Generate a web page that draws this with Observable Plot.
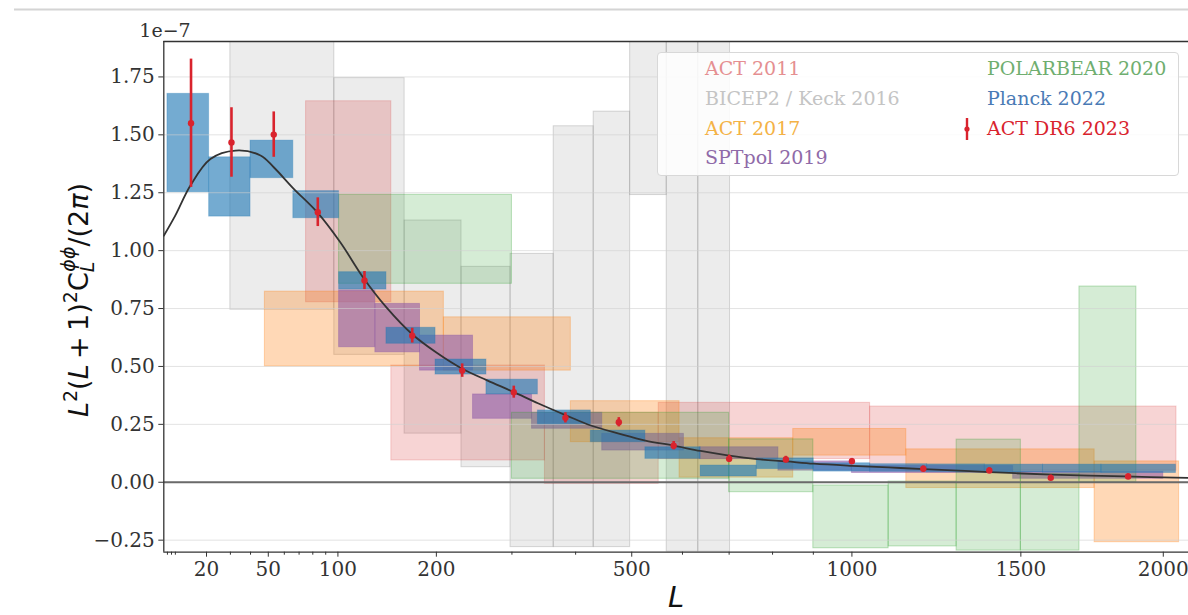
<!DOCTYPE html>
<html><head><meta charset="utf-8">
<script src="https://cdn.jsdelivr.net/npm/d3@7"></script>
<script src="https://cdn.jsdelivr.net/npm/@observablehq/plot@0.6"></script>
<style>
body{margin:0;background:#fff;}
#wrap{position:relative;width:1188px;height:615px;overflow:hidden;}
#legend{position:absolute;left:657px;top:52px;width:522px;height:124px;background:rgba(255,255,255,0.85);border:1px solid #d8d8d8;border-radius:4px;box-sizing:border-box;font-family:"DejaVu Serif",serif;font-size:19px;}
.li{position:absolute;white-space:nowrap;line-height:1;}
</style></head>
<body><div id="wrap"><div id="legend"></div></div>
<script>
// ---------------- data (values in units of 1e-7) ----------------
const xMin = 7.16, xMax = 2096;
const yMin = -0.302, yMax = 1.903;
const xMajor = [20, 50, 100, 200, 500, 1000, 1500, 2000];
const xMinor = [8, 9, 10, 30, 40, 60, 70, 80, 90, 300, 400, 600, 700, 800, 900];
const yTicks = [-0.25, 0, 0.25, 0.5, 0.75, 1.0, 1.25, 1.5, 1.75];

// Planck 2022
const planckLo = [8, 21, 40, 66, 101, 145, 199, 264, 339, 426, 526, 638, 763, 901, 1049, 1210, 1385, 1573, 1774];
const planckHi = [21, 40, 66, 101, 145, 199, 264, 339, 426, 526, 638, 763, 901, 1049, 1210, 1385, 1573, 1774, 2048];
const planckY1 = [1.252, 1.147, 1.313, 1.140, 0.832, 0.598, 0.465, 0.379, 0.249, 0.173, 0.101, 0.025, 0.057, 0.046, 0.045, 0.043, 0.042, 0.041, 0.040];
const planckY2 = [1.677, 1.403, 1.475, 1.257, 0.907, 0.667, 0.530, 0.443, 0.310, 0.223, 0.151, 0.072, 0.103, 0.082, 0.078, 0.077, 0.076, 0.076, 0.076];

// ACT 2011
const act11Lo = [75, 150, 350, 552, 1049];
const act11Hi = [150, 350, 552, 1049, 2050];
const act11Y1 = [0.777, 0.094, -0.007, 0.10, 0.05];
const act11Y2 = [1.645, 0.504, 0.30, 0.343, 0.327];

// BICEP2 / Keck 2016
const bkLo = [30, 97, 164, 231, 298, 364, 431, 497, 568, 633];
const bkHi = [97, 164, 231, 298, 364, 431, 497, 568, 633, 702];
const bkY1 = [0.745, 0.55, 0.21, 0.065, -0.28, -0.28, -0.28, 1.24, -0.30, -0.30];
const bkY2 = [2.1, 1.745, 1.13, 0.93, 0.986, 1.537, 1.60, 2.1, 2.1, 2.1];

// ACT 2017
const act17Lo = [48, 209, 392, 594, 850, 1150, 1750];
const act17Hi = [209, 392, 594, 850, 1150, 1750, 2060];
const act17Y1 = [0.50, 0.482, 0.173, 0.02, 0.115, -0.025, -0.259];
const act17Y2 = [0.823, 0.712, 0.35, 0.19, 0.23, 0.142, 0.09];

// SPTpol 2019
const sptLo = [101, 134, 181, 246, 330, 446, 636, 814, 1000, 1475];
const sptHi = [134, 181, 246, 330, 446, 603, 814, 1000, 1475, 2000];
const sptY1 = [0.583, 0.561, 0.482, 0.274, 0.231, 0.137, 0.10, 0.05, 0.04, 0.015];
const sptY2 = [0.828, 0.77, 0.633, 0.379, 0.30, 0.209, 0.151, 0.09, 0.07, 0.045];

// POLARBEAR 2020
const pbLo = [101, 300, 700, 900, 1100, 1298, 1500, 1697];
const pbHi = [300, 700, 900, 1100, 1298, 1500, 1697, 1900];
const pbY1 = [0.857, 0.015, -0.043, -0.285, -0.277, -0.295, -0.295, 0.0];
const pbY2 = [1.241, 0.30, 0.185, -0.014, 0.003, 0.184, 0.035, 0.845];

// ACT DR6 2023
const dr6L = [14.6, 30.5, 53.3, 83.8, 123.6, 172.3, 231.9, 302.7, 383, 476, 582, 700, 832, 1000, 1199, 1399, 1599, 1870];
const dr6V = [1.550, 1.467, 1.501, 1.166, 0.871, 0.633, 0.482, 0.389, 0.278, 0.259, 0.158, 0.101, 0.098, 0.091, 0.058, 0.0505, 0.019, 0.0246];
const dr6Err = [0.277, 0.150, 0.098, 0.062, 0.039, 0.032, 0.029, 0.026, 0.022, 0.020, 0.018, 0.016, 0.014, 0.012, 0.012, 0.012, 0.012, 0.012];

// theory curve
const theoryL = [7.16, 10, 14.4, 21.5, 32.4, 45.5, 53.3, 66.3, 83.3, 102, 123, 145, 172, 200, 232, 265, 302, 340, 383, 426, 476, 526, 582, 638, 700, 763, 833, 901, 1000, 1100, 1200, 1400, 1600, 1860, 2096];
const theoryV = [1.064, 1.152, 1.281, 1.396, 1.432, 1.411, 1.36, 1.267, 1.166, 1.036, 0.88, 0.755, 0.64, 0.56, 0.49, 0.44, 0.39, 0.34, 0.29, 0.245, 0.21, 0.18, 0.158, 0.135, 0.115, 0.10, 0.09, 0.08, 0.071, 0.064, 0.057, 0.044, 0.033, 0.025, 0.019];

const legendLeft = ["ACT 2011", "BICEP2 / Keck 2016", "ACT 2017", "SPTpol 2019"];
const legendRight = ["POLARBEAR 2020", "Planck 2022", "ACT DR6 2023"];

// ---------------- build tables ----------------
const boxes = (lo, hi, y1, y2) => lo.map((d, i) => ({x1: d, x2: hi[i], y1: y1[i], y2: y2[i]}));
const dr6 = dr6L.map((d, i) => ({L: d, v: dr6V[i], lo: dr6V[i] - dr6Err[i], hi: dr6V[i] + dr6Err[i]}));
const theory = theoryL.map((d, i) => ({L: d, v: theoryV[i]}));

const RED = "#d9232d";
const boxMark = (data, color, op, sop) => Plot.rect(data, {x1: "x1", x2: "x2", y1: "y1", y2: "y2", fill: color, fillOpacity: op, stroke: color, strokeOpacity: sop, strokeWidth: 1, clip: true});

const chart = Plot.plot({
  width: 1188, height: 615,
  marginLeft: 163.3, marginRight: 0, marginTop: 41, marginBottom: 63.3,
  style: {fontFamily: "DejaVu Serif", fontSize: "20px", color: "#333", background: "transparent", overflow: "visible"},
  x: {type: "sqrt", domain: [xMin, xMax]},
  y: {domain: [yMin, yMax]},
  marks: [
    boxMark(boxes(bkLo, bkHi, bkY1, bkY2), "#808080", 0.15, 0.3),
    boxMark(boxes(act11Lo, act11Hi, act11Y1, act11Y2), "#d62728", 0.2, 0.2),
    boxMark(boxes(act17Lo, act17Hi, act17Y1, act17Y2), "#ff7f0e", 0.3, 0.3),
    boxMark(boxes(sptLo, sptHi, sptY1, sptY2), "#8e5aa8", 0.58, 0.4),
    boxMark(boxes(pbLo, pbHi, pbY1, pbY2), "#2ca02c", 0.2, 0.3),
    boxMark(boxes(planckLo, planckHi, planckY1, planckY2), "#1f77b4", 0.62, 0.3),
    Plot.gridY(yTicks, {stroke: "#d0d0d0", strokeOpacity: 0.6, strokeWidth: 1}),
    Plot.ruleY([0], {stroke: "#6a6a6a", strokeWidth: 1.8}),
    Plot.line(theory, {x: "L", y: "v", stroke: "#333", strokeWidth: 1.8, curve: "catmull-rom", clip: true}),
    Plot.ruleX(dr6, {x: "L", y1: "lo", y2: "hi", stroke: RED, strokeWidth: 2.6}),
    Plot.dot(dr6, {x: "L", y: "v", r: 3.2, fill: RED, stroke: "none"}),
    Plot.ruleX([xMin], {stroke: "#333", strokeWidth: 1.3}),
    Plot.ruleY([yMin, yMax], {stroke: "#333", strokeWidth: 1.3}),
    Plot.axisX({ticks: xMajor, tickFormat: d => String(d), tickSize: 5, tickPadding: 5, label: null}),
    Plot.axisX({ticks: xMinor, tickFormat: () => "", tickSize: 3, label: null}),
    Plot.axisY({ticks: yTicks, tickFormat: d => d.toFixed(2).replace("-", "\u2212"), tickSize: 5, tickPadding: 4, label: null}),
    Plot.text(["L"], {frameAnchor: "bottom", dy: 55, fontSize: 29, fontStyle: "italic", fontFamily: "DejaVu Sans", fill: "#111"})
  ]
});

const wrap = document.getElementById("wrap");
wrap.insertBefore(chart, wrap.firstChild);
chart.style.position = "absolute"; chart.style.left = "0"; chart.style.top = "0";

const svg = d3.select(chart);
// top border line of the screenshot
svg.append("line").attr("x1", 14).attr("x2", 1188).attr("y1", 9.5).attr("y2", 9.5).attr("stroke", "#d4d4d4").attr("stroke-width", 2);
// offset text
svg.append("text").attr("x", 165).attr("y", 37).attr("font-family", "DejaVu Serif").attr("font-size", 19).attr("fill", "#333").text("1e\u22127");
// y label
const yl = svg.append("text").attr("transform", "translate(88,300) rotate(-90)").attr("text-anchor", "middle")
  .attr("font-family", "DejaVu Sans").attr("font-size", 27).attr("fill", "#111");
yl.append("tspan").attr("font-style", "italic").text("L");
yl.append("tspan").attr("font-size", 19).attr("dy", -11).text("2");
yl.append("tspan").attr("dy", 11).text("(");
yl.append("tspan").attr("font-style", "italic").text("L");
yl.append("tspan").text("\u2009+\u20091)");
yl.append("tspan").attr("font-size", 19).attr("dy", -11).text("2");
yl.append("tspan").attr("dy", 11).text("C");
yl.append("tspan").attr("font-size", 19).attr("font-style", "italic").attr("dy", 6).text("L");
yl.append("tspan").attr("font-size", 19).attr("font-style", "italic").attr("dx", -10).attr("dy", -19).text("\u03d5\u03d5");
yl.append("tspan").attr("dy", 13).text("/(2");
yl.append("tspan").attr("font-style", "italic").text("\u03c0");
yl.append("tspan").text(")");

// legend
const leg = document.getElementById("legend");
const leftColors = ["#e58f91", "#c4c4c4", "#f4b246", "#8f6aa8"];
const rightColors = ["#6fae6f", "#4a7ab5", RED];
const rowY = [6, 36, 66, 95];
legendLeft.forEach((t, i) => {
  const s = document.createElement("div"); s.className = "li";
  s.style.left = "47px"; s.style.top = rowY[i] + "px"; s.style.color = leftColors[i]; s.textContent = t; leg.appendChild(s);
});
legendRight.forEach((t, i) => {
  const s = document.createElement("div"); s.className = "li";
  s.style.left = "329px"; s.style.top = rowY[i] + "px"; s.style.color = rightColors[i]; s.textContent = t; leg.appendChild(s);
});
// DR6 marker in legend
const mk = d3.select(leg).append("svg").attr("width", 12).attr("height", 26).style("position", "absolute").style("left", "303px").style("top", "63px");
mk.append("line").attr("x1", 6).attr("x2", 6).attr("y1", 2).attr("y2", 24).attr("stroke", RED).attr("stroke-width", 2.4);
mk.append("circle").attr("cx", 6).attr("cy", 13).attr("r", 2.6).attr("fill", RED);
</script>
</body></html>
